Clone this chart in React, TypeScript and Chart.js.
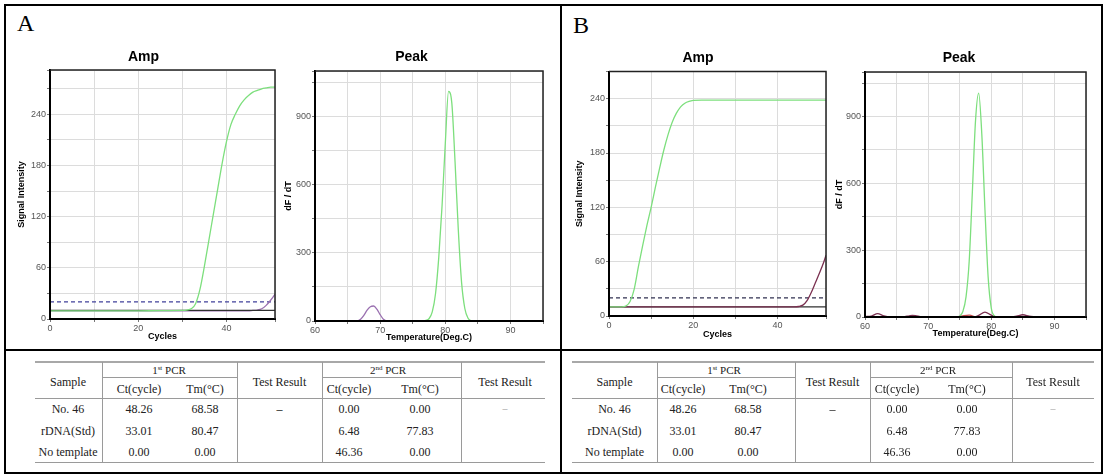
import React, { useEffect, useRef } from 'react';
import { Chart, registerables } from 'chart.js';

Chart.register(...registerables);

// ================= DATA =================
// --- Panel A, Amp (cycles vs signal intensity) ---
const ampA_cycles = [0, 5, 10, 15, 20, 25, 30, 31, 32, 33, 34, 35, 36, 37, 38, 39, 40, 41, 42, 43, 44, 45, 46, 47, 48, 49, 50, 51];
const ampA_rDNA = [9.5, 9.5, 9.5, 9.5, 9.5, 9.8, 10, 10.5, 12, 18, 35, 62, 92, 122, 152, 182, 208, 228, 240, 250, 257, 262, 266, 268, 270, 271, 272, 272];
const ampA_sample = [9.5, 9.5, 9.5, 9.5, 9.5, 9.5, 9.5, 9.5, 9.5, 9.5, 9.5, 9.5, 9.5, 9.5, 9.5, 9.5, 9.5, 9.5, 9.5, 9.5, 9.5, 9.5, 10, 10.5, 12, 16, 22, 29];
const ampA_lineCycles = [0, 51];
const ampA_baseline = [10, 10];
const ampA_threshold = [20, 20];

// --- Panel A, Peak (temperature vs dF/dT) ---
const peakA_rDNA_temp = [76.5, 77, 77.5, 78, 78.5, 79, 79.5, 80, 80.5, 81, 81.5, 82, 82.5, 83, 83.5, 84];
const peakA_rDNA = [0, 3, 10, 40, 120, 280, 505, 780, 1010, 960, 700, 400, 170, 55, 12, 0];
const peakA_sample_temp = [66.5, 67, 67.5, 68, 68.5, 69, 69.5, 70, 70.5, 71];
const peakA_sample = [0, 8, 25, 48, 63, 66, 52, 28, 8, 0];

// --- Panel B, Amp ---
const ampB_cycles = [0, 1, 2, 3, 4, 5, 6, 7, 8, 9, 10, 11, 12, 13, 14, 15, 16, 17, 18, 19, 20, 22, 25, 30, 35, 40, 44, 45, 46, 47, 48, 49, 50, 51, 51.5];
const ampB_rDNA = [10, 10, 10, 10, 11, 16, 30, 55, 78, 100, 120, 142, 163, 183, 200, 214, 224, 231, 235, 237, 238, 238.5, 238.5, 238.5, 238.5, 238.5, 238.5, 238.5, 238.5, 238.5, 238.5, 238.5, 238.5, 238.5, 238.5];
const ampB_sample = [10, 10, 10, 10, 10, 10, 10, 10, 10, 10, 10, 10, 10, 10, 10, 10, 10, 10, 10, 10, 10, 10, 10, 10, 10, 10, 10, 10.5, 12, 17, 26, 37, 48, 60, 67];
const ampB_lineCycles = [0, 51.5];
const ampB_baseline = [10, 10];
const ampB_threshold = [20, 20];

// --- Panel B, Peak ---
const peakB_rDNA_temp = [74.5, 75, 75.5, 76, 76.5, 77, 77.5, 78, 78.5, 79, 79.5, 80, 80.5, 81];
const peakB_rDNA = [0, 5, 25, 90, 250, 560, 880, 1005, 820, 480, 180, 40, 5, 0];
const peakB_sample_temp = [60, 61, 62, 63, 64, 66, 67, 67.5, 68, 69, 77.5, 78, 79, 80, 81, 83, 84, 85, 86, 87];
const peakB_sample = [2, 4, 15, 5, 1, 1, 5, 7, 6, 1, 1, 7, 22, 8, 0, 0, 4, 10, 4, 0];
const peakB_other_temp = [74.5, 75.5, 76.5, 77.5];
const peakB_other = [0, 5, 8, 0];

// --- Tables ---
const tableSamples = ['No. 46', 'rDNA(Std)', 'No template'];
const pcr1Ct = ['48.26', '33.01', '0.00'];
const pcr1Tm = ['68.58', '80.47', '0.00'];
const pcr1Result = ['–', '', ''];
const pcr2Ct = ['0.00', '6.48', '46.36'];
const pcr2Tm = ['0.00', '77.83', '0.00'];
const pcr2Result = ['–', '', ''];

// ================= STYLE =================
const SANS = "Arial, 'Liberation Sans', Helvetica, sans-serif";
const SERIF = "'Times New Roman', 'Liberation Serif', serif";
const GREEN = '#7ddf7d';
const PURPLE_A = '#9a70b0';
const MAROON_B = '#7a3050';

type Series = { xs: number[]; ys: number[]; color: string; width?: number; dash?: number[] };
type Spec = {
  x: number; y: number; w: number; h: number;
  title: string; titlePadTop: number; titlePadBottom: number;
  yWidth: number; xHeight: number; padRight: number;
  xMin: number; xMax: number; xStep: number; xLabelEvery: number; xTitle: string; xTitlePad: number;
  yMin: number; yMax: number; yStep: number; yLabelEvery: number; yTitle: string; yTitlePad: number;
  series: Series[];
};

const framePlugin = {
  id: 'frame',
  afterDraw(chart: any) {
    const { ctx, chartArea: a } = chart;
    ctx.save();
    ctx.strokeStyle = '#222';
    ctx.lineWidth = 1.5;
    ctx.beginPath();
    ctx.moveTo(a.left, a.top);
    ctx.lineTo(a.right, a.top);
    ctx.lineTo(a.right, a.bottom);
    ctx.stroke();
    ctx.restore();
  },
};

function buildConfig(s: Spec): any {
  const near = (v: number, every: number) => Math.abs(v / every - Math.round(v / every)) < 1e-6;
  const grid = { color: '#dcdcdc', lineWidth: 1, drawTicks: true, tickLength: 3, tickColor: '#777' };
  const border = { display: true, color: '#000', width: 2, z: 1 };
  const tickFont = { family: SANS, size: 9 };
  const axisTitleFont = { family: SANS, size: 9, weight: 'bold', lineHeight: 1 };
  return {
    type: 'line',
    data: {
      datasets: s.series.map((d) => ({
        data: d.xs.map((x, i) => ({ x, y: d.ys[i] })),
        borderColor: d.color,
        borderWidth: d.width ?? 1.3,
        borderDash: d.dash ?? [],
        pointRadius: 0,
        fill: false,
        cubicInterpolationMode: 'monotone',
      })),
    },
    options: {
      animation: false,
      responsive: false,
      events: [],
      layout: { padding: { left: 0, right: s.padRight, top: 0, bottom: 0 } },
      plugins: {
        legend: { display: false },
        tooltip: { enabled: false },
        title: {
          display: true,
          text: s.title,
          color: '#000',
          font: { family: SANS, size: 14, weight: 'bold', lineHeight: 1 },
          padding: { top: s.titlePadTop, bottom: s.titlePadBottom },
        },
      },
      scales: {
        x: {
          type: 'linear',
          min: s.xMin,
          max: s.xMax,
          grid,
          border,
          ticks: {
            stepSize: s.xStep,
            autoSkip: false,
            maxRotation: 0,
            padding: 1,
            color: '#555',
            font: tickFont,
            callback: (v: number) => (near(v, s.xLabelEvery) ? String(v) : ''),
          },
          title: { display: true, text: s.xTitle, color: '#000', font: axisTitleFont, padding: { top: s.xTitlePad, bottom: s.xTitlePad } },
          afterFit: (sc: any) => { sc.height = s.xHeight; },
        },
        y: {
          type: 'linear',
          min: s.yMin,
          max: s.yMax,
          grid,
          border,
          ticks: {
            stepSize: s.yStep,
            autoSkip: false,
            padding: 1,
            color: '#555',
            font: tickFont,
            callback: (v: number) => (near(v, s.yLabelEvery) ? String(v) : ''),
          },
          title: { display: true, text: s.yTitle, color: '#000', font: axisTitleFont, padding: { top: s.yTitlePad, bottom: s.yTitlePad } },
          afterFit: (sc: any) => { sc.width = s.yWidth; },
        },
      },
    },
    plugins: [framePlugin],
  };
}

const specs: Spec[] = [
  {
    x: 12, y: 40, w: 296, h: 305, title: 'Amp', titlePadTop: 10, titlePadBottom: 6,
    yWidth: 38, xHeight: 26, padRight: 33,
    xMin: 0, xMax: 51, xStep: 10, xLabelEvery: 20, xTitle: 'Cycles', xTitlePad: 3.5,
    yMin: 0, yMax: 292, yStep: 30, yLabelEvery: 60, yTitle: 'Signal Intensity', yTitlePad: 5.5,
    series: [
      { xs: ampA_cycles, ys: ampA_rDNA, color: GREEN },
      { xs: ampA_lineCycles, ys: ampA_baseline, color: '#303030', width: 1.2 },
      { xs: ampA_cycles, ys: ampA_sample, color: PURPLE_A },
      { xs: ampA_lineCycles, ys: ampA_threshold, color: '#40409a', dash: [4, 3], width: 1.3 },
    ],
  },
  {
    x: 280, y: 40, w: 288, h: 305, title: 'Peak', titlePadTop: 10, titlePadBottom: 7,
    yWidth: 35, xHeight: 24, padRight: 25,
    xMin: 60, xMax: 95, xStep: 5, xLabelEvery: 10, xTitle: 'Temperature(Deg.C)', xTitlePad: 2.5,
    yMin: 0, yMax: 1100, yStep: 150, yLabelEvery: 300, yTitle: 'dF / dT', yTitlePad: 4.5,
    series: [
      { xs: peakA_rDNA_temp, ys: peakA_rDNA, color: GREEN },
      { xs: peakA_sample_temp, ys: peakA_sample, color: PURPLE_A },
    ],
  },
  {
    x: 570, y: 40, w: 286, h: 305, title: 'Amp', titlePadTop: 11, titlePadBottom: 6.5,
    yWidth: 39, xHeight: 29, padRight: 30,
    xMin: 0, xMax: 51.5, xStep: 10, xLabelEvery: 20, xTitle: 'Cycles', xTitlePad: 5.5,
    yMin: 0, yMax: 270, yStep: 30, yLabelEvery: 60, yTitle: 'Signal Intensity', yTitlePad: 5.5,
    series: [
      { xs: ampB_cycles, ys: ampB_rDNA, color: GREEN },
      { xs: ampB_cycles, ys: ampB_sample, color: MAROON_B },
      { xs: ampB_lineCycles, ys: ampB_threshold, color: '#303050', dash: [4, 3], width: 1.3 },
      { xs: ampB_lineCycles, ys: ampB_baseline, color: '#303030', width: 1.2 },
    ],
  },
  {
    x: 832, y: 40, w: 276, h: 305, title: 'Peak', titlePadTop: 11, titlePadBottom: 7,
    yWidth: 33, xHeight: 28, padRight: 22,
    xMin: 60, xMax: 95, xStep: 5, xLabelEvery: 10, xTitle: 'Temperature(Deg.C)', xTitlePad: 6.5,
    yMin: 0, yMax: 1100, yStep: 150, yLabelEvery: 300, yTitle: 'dF / dT', yTitlePad: 3.5,
    series: [
      { xs: peakB_rDNA_temp, ys: peakB_rDNA, color: GREEN },
      { xs: peakB_sample_temp, ys: peakB_sample, color: MAROON_B },
      { xs: peakB_other_temp, ys: peakB_other, color: '#c04848' },
    ],
  },
];

function ChartBox({ spec }: { spec: Spec }) {
  const ref = useRef<HTMLCanvasElement | null>(null);
  useEffect(() => {
    const chart = new Chart(ref.current as HTMLCanvasElement, buildConfig(spec));
    return () => chart.destroy();
  }, [spec]);
  return (
    <canvas
      ref={ref}
      width={spec.w}
      height={spec.h}
      style={{ position: 'absolute', left: spec.x, top: spec.y, width: spec.w, height: spec.h }}
    />
  );
}

type TableGeom = {
  left: number; right: number; seps: number[];
  sub1: [number, number]; sub2: [number, number];
  xs: { sample: number; pcr1: number; ct1: number; tm1: number; tr1: number; pcr2: number; ct2: number; tm2: number; tr2: number };
};

const TY = { top: 362, pcr: 369.5, sub: 377.5, subText: 389, head: 381.5, headBottom: 398.5, rows: [409, 430.5, 452], bottom: 462.5 };

function Txt({ x, y, children, color = '#222', size = 12 }: any) {
  return (
    <div
      style={{
        position: 'absolute', left: x, top: y, transform: 'translate(-50%, -50%)',
        whiteSpace: 'nowrap', fontFamily: SERIF, fontSize: size, lineHeight: 1, color,
      }}
    >
      {children}
    </div>
  );
}

function HLine({ x1, x2, y, t, c }: any) {
  return <div style={{ position: 'absolute', left: x1, top: y - t / 2, width: x2 - x1, height: t, background: c }} />;
}
function VLine({ x, y1, y2, t, c }: any) {
  return <div style={{ position: 'absolute', left: x - t / 2, top: y1, width: t, height: y2 - y1, background: c }} />;
}

function Sup({ text }: { text: string }) {
  return <span style={{ fontSize: 7, position: 'relative', top: -4 }}>{text}</span>;
}

function PcrTable({ g }: { g: TableGeom }) {
  const c = '#9a9a9a';
  return (
    <>
      <HLine x1={g.left} x2={g.right} y={TY.top} t={2} c="#a8a8a8" />
      <HLine x1={g.sub1[0]} x2={g.sub1[1]} y={TY.sub} t={1} c={c} />
      <HLine x1={g.sub2[0]} x2={g.sub2[1]} y={TY.sub} t={1} c={c} />
      <HLine x1={g.left} x2={g.right} y={TY.headBottom} t={1.5} c={c} />
      <HLine x1={g.left} x2={g.right} y={TY.bottom} t={1.5} c={c} />
      {g.seps.map((x, i) => (
        <VLine key={i} x={x} y1={TY.top} y2={TY.bottom} t={1} c={c} />
      ))}
      <Txt x={g.xs.sample} y={TY.head}>Sample</Txt>
      <Txt x={g.xs.pcr1} y={TY.pcr} size={11}>1<Sup text="st" /> PCR</Txt>
      <Txt x={g.xs.ct1} y={TY.subText}>Ct(cycle)</Txt>
      <Txt x={g.xs.tm1} y={TY.subText}>Tm(°C)</Txt>
      <Txt x={g.xs.tr1} y={TY.head}>Test Result</Txt>
      <Txt x={g.xs.pcr2} y={TY.pcr} size={11}>2<Sup text="nd" /> PCR</Txt>
      <Txt x={g.xs.ct2} y={TY.subText}>Ct(cycle)</Txt>
      <Txt x={g.xs.tm2} y={TY.subText}>Tm(°C)</Txt>
      <Txt x={g.xs.tr2} y={TY.head}>Test Result</Txt>
      {tableSamples.map((s, i) => (
        <React.Fragment key={i}>
          <Txt x={g.xs.sample} y={TY.rows[i]}>{s}</Txt>
          <Txt x={g.xs.ct1} y={TY.rows[i]}>{pcr1Ct[i]}</Txt>
          <Txt x={g.xs.tm1} y={TY.rows[i]}>{pcr1Tm[i]}</Txt>
          <Txt x={g.xs.tr1} y={TY.rows[i]} color="#000">{pcr1Result[i]}</Txt>
          <Txt x={g.xs.ct2} y={TY.rows[i]}>{pcr2Ct[i]}</Txt>
          <Txt x={g.xs.tm2} y={TY.rows[i]}>{pcr2Tm[i]}</Txt>
          <Txt x={g.xs.tr2} y={TY.rows[i]} color="#999" size={10}>{pcr2Result[i]}</Txt>
        </React.Fragment>
      ))}
    </>
  );
}

const tableA: TableGeom = {
  left: 35, right: 545, seps: [102, 237, 322, 461], sub1: [102, 237], sub2: [322, 461],
  xs: { sample: 68, pcr1: 169, ct1: 139, tm1: 205, tr1: 279.5, pcr2: 388, ct2: 349, tm2: 420, tr2: 505 },
};
const tableB: TableGeom = {
  left: 572, right: 1094, seps: [657, 795, 870, 1012], sub1: [657, 795], sub2: [870, 1012],
  xs: { sample: 614.5, pcr1: 724, ct1: 683, tm1: 748, tr1: 832.5, pcr2: 938, ct2: 897, tm2: 967, tr2: 1053 },
};

export default function App() {
  return (
    <div style={{ position: 'absolute', left: 0, top: 0, width: 1113, height: 476, background: '#fff', overflow: 'hidden' }}>
      {/* outer frame and dividers */}
      <div style={{ position: 'absolute', left: 4, top: 4, width: 1099, height: 470, border: '2px solid #000', boxSizing: 'border-box' }} />
      <div style={{ position: 'absolute', left: 560, top: 4, width: 2, height: 470, background: '#000' }} />
      <div style={{ position: 'absolute', left: 4, top: 348.5, width: 1099, height: 2, background: '#000' }} />
      {/* panel letters */}
      <div style={{ position: 'absolute', left: 17, top: 11, fontFamily: SERIF, fontSize: 24, lineHeight: 1, color: '#000' }}>A</div>
      <div style={{ position: 'absolute', left: 573, top: 12.5, fontFamily: SERIF, fontSize: 24, lineHeight: 1, color: '#000' }}>B</div>
      {specs.map((s, i) => (
        <ChartBox key={i} spec={s} />
      ))}
      <PcrTable g={tableA} />
      <PcrTable g={tableB} />
    </div>
  );
}
